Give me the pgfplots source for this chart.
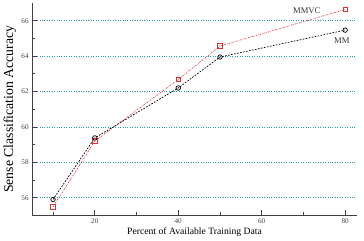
\documentclass[border=0pt]{standalone}
\usepackage{pgfplots}
\pgfplotsset{compat=1.18}
\usepackage{fontspec}
\setmainfont{Liberation Serif}
\definecolor{gridteal}{RGB}{40,160,170}
\definecolor{mmvcred}{RGB}{225,45,55}
\begin{document}
\begin{tikzpicture}
\begin{axis}[
  scale only axis,
  width=318bp, height=208bp,
  xmin=5, xmax=82.8, ymin=55, ymax=67,
  axis x line*=bottom, axis y line*=left,
  axis line style={black!75, line width=0.8pt, -},
  xtick={20,40,60,80}, ytick={56,58,60,62,64,66},
  minor xtick={10,30,50,70}, minor ytick={57,59,61,63,65},
  tick align=inside,
  major tick length=5bp, minor tick length=3bp,
  tick style={black!75, line width=0.7pt},
  ticklabel style={font=\fontsize{7}{8}\selectfont, text=black!75},
  /pgf/number format/assume math mode=true,
  ymajorgrids,
  major grid style={gridteal, dotted, line width=0.8pt},
  xlabel={Percent of Available Training Data},
  ylabel={Sense Classification Accuracy},
  xlabel style={font=\fontsize{9.5}{11}\selectfont, yshift=3bp},
  ylabel style={font=\fontsize{13.5}{15}\selectfont, yshift=-1.5bp},
  clip=false,
]
\addplot[mmvcred, line width=0.6pt, dash pattern=on 1.5pt off 1pt on 0.5pt off 1pt,
  mark=square, mark size=2.2bp, mark options={solid, line width=0.7pt}]
  coordinates {(10,55.48) (20,59.2) (40,62.68) (50,64.57) (80,66.64)};
\addplot[black, line width=0.7pt, dash pattern=on 1.6pt off 1.4pt,
  mark=o, mark size=2.2bp, mark options={solid, line width=0.7pt}]
  coordinates {(10,55.9) (20,59.38) (40,62.2) (50,63.95) (80,65.47)};
\node[font=\fontsize{8.5}{10}\selectfont, text=black!80] at (axis cs:70.8,66.58) {MMVC};
\node[font=\fontsize{8.5}{10}\selectfont, text=black!80] at (axis cs:79.2,64.85) {MM};
% blank margin on the right of the plot area
\path (rel axis cs:1,1) ++(7bp,3bp);
\end{axis}
\end{tikzpicture}
\end{document}
